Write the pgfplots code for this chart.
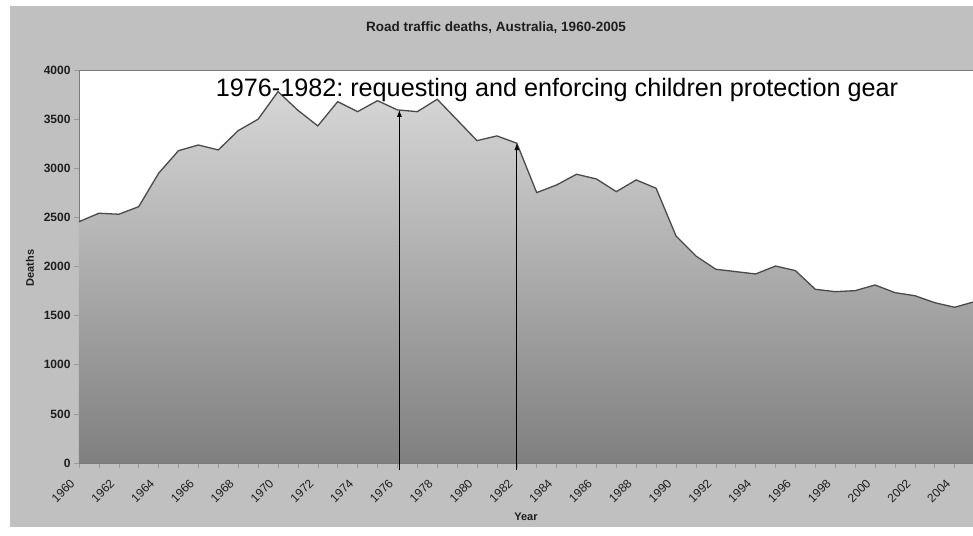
\documentclass[border=0pt]{standalone}
\usepackage{pgfplots}
\pgfplotsset{compat=1.18}
\usepackage{pgfplotstable}
\usepackage{fontspec}
\setmainfont{Liberation Sans}
\usetikzlibrary{arrows.meta}
\frenchspacing

\definecolor{chartbg}{HTML}{C0C0C0}
\definecolor{linegray}{HTML}{4A4A4A}
\definecolor{axisgray}{HTML}{7A7A7A}
\definecolor{tickgray}{HTML}{9A9A9A}
\definecolor{txt}{HTML}{1E1E1E}

% road traffic deaths per year
\pgfplotstableread{
year deaths
1960 2456
1961 2542
1962 2532
1963 2609
1964 2949
1965 3179
1966 3237
1967 3186
1968 3383
1969 3499
1970 3780
1971 3590
1972 3431
1973 3678
1974 3576
1975 3688
1976 3594
1977 3576
1978 3702
1979 3492
1980 3281
1981 3329
1982 3255
1983 2752
1984 2830
1985 2939
1986 2891
1987 2762
1988 2881
1989 2796
1990 2311
1991 2107
1992 1972
1993 1948
1994 1924
1995 2005
1996 1958
1997 1768
1998 1744
1999 1754
2000 1812
2001 1734
2002 1703
2003 1632
2004 1585
2005 1642
}\deaths

\begin{document}
\begin{tikzpicture}[x=1pt,y=1pt]
\useasboundingbox (-79,-72) rectangle (894,463);
\fill[white] (-79,-72) rectangle (894,463);
\fill[chartbg] (-69,-64) rectangle (900,457);

\node[txt,font=\bfseries\fontsize{13.5}{16}\selectfont] at (417,435) {Road traffic deaths, Australia, 1960-2005};
\node[txt,rotate=90,font=\bfseries\fontsize{11}{13}\selectfont] at (-49,195) {Deaths};
\node[txt,font=\bfseries\fontsize{11}{13}\selectfont] at (447,-54) {Year};

\begin{axis}[
    at={(0,0)}, anchor=south west,
    scale only axis, width=895.5pt, height=393pt,
    xmin=1960, xmax=2005, ymin=0, ymax=4000,
    axis background/.style={fill=white},
    axis line style={draw=axisgray, line width=0.8pt},
    xtick={1960,1962,...,2004},
    minor xtick={1961,1963,...,2005},
    ytick={0,500,...,4000},
    xtick pos=left, ytick pos=left,
    tick align=outside,
    major tick length=5pt, minor tick length=5pt,
    every tick/.style={draw=tickgray, line width=0.6pt},
    /pgf/number format/.cd, 1000 sep={}, assume math mode=true,
    /pgfplots/.cd,
    xticklabel style={xshift=-4pt, yshift=-11pt, rotate=45, anchor=east,
        text=txt, font=\fontsize{12}{14}\selectfont},
    yticklabel style={text=txt, font=\bfseries\fontsize{12}{14}\selectfont},
    clip=false,
]
\addplot[draw=none, top color=white!84!black, bottom color=white!50!black]
    table[x=year, y=deaths] {\deaths} \closedcycle;
\addplot[linegray, line width=1.3pt, mark=none]
    table[x=year, y=deaths] {\deaths};
\draw[black, line width=0.9pt, -{Latex[length=7pt,width=5pt]}]
    (axis cs:1976.1,-70) -- (axis cs:1976.1,3594);
\draw[black, line width=0.9pt, -{Latex[length=7pt,width=5pt]}]
    (axis cs:1982,-70) -- (axis cs:1982,3255);
\end{axis}

\node[anchor=base, text=black, font=\fontsize{25.2}{28}\selectfont] at (478,366)
    {1976-1982: requesting and enforcing children protection gear};
\end{tikzpicture}
\end{document}
